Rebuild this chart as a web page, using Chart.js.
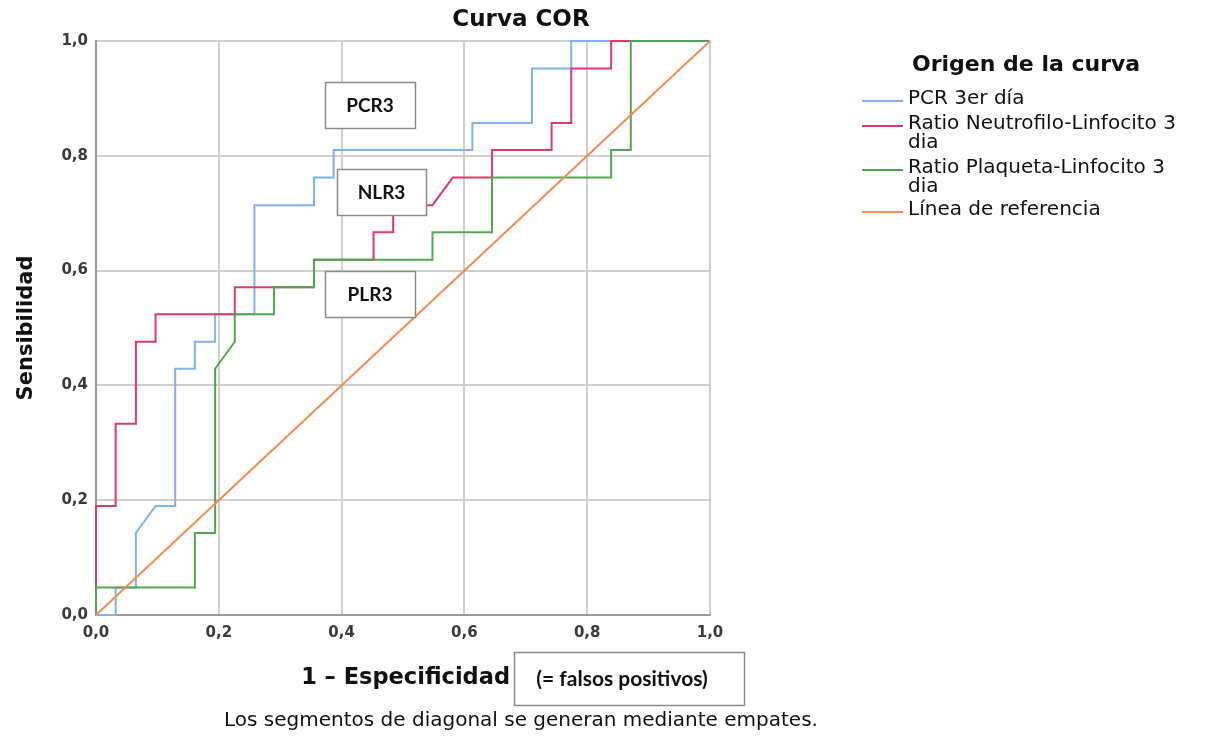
<!DOCTYPE html>
<html><head><meta charset="utf-8">
<script src="https://cdn.jsdelivr.net/npm/chart.js@4.4.1/dist/chart.umd.min.js"></script>
<style>html,body{margin:0;padding:0;background:#fff}#wrap{width:1205px;height:736px;position:relative}</style>
</head><body><div id="wrap"><canvas id="c" width="1205" height="736"></canvas></div>
<script>
// Tick labels
const tickValues = [0, 0.2, 0.4, 0.6, 0.8, 1.0];
const tickLabels = ['0,0', '0,2', '0,4', '0,6', '0,8', '1,0'];

// PCR 3er día (blue)
const pcrX = [0, 0.032, 0.032, 0.065, 0.065, 0.097, 0.129, 0.129, 0.161, 0.161, 0.194, 0.194, 0.258, 0.258, 0.355, 0.355, 0.387, 0.387, 0.613, 0.613, 0.710, 0.710, 0.774, 0.774, 1.0];
const pcrY = [0, 0, 0.048, 0.048, 0.143, 0.190, 0.190, 0.429, 0.429, 0.476, 0.476, 0.524, 0.524, 0.714, 0.714, 0.762, 0.762, 0.810, 0.810, 0.857, 0.857, 0.952, 0.952, 1.0, 1.0];

// Ratio Neutrofilo-Linfocito 3 dia (red)
const nlrX = [0, 0, 0.032, 0.032, 0.065, 0.065, 0.097, 0.097, 0.226, 0.226, 0.355, 0.355, 0.452, 0.452, 0.484, 0.484, 0.548, 0.581, 0.645, 0.645, 0.742, 0.742, 0.774, 0.774, 0.839, 0.839, 1.0];
const nlrY = [0, 0.190, 0.190, 0.333, 0.333, 0.476, 0.476, 0.524, 0.524, 0.571, 0.571, 0.619, 0.619, 0.667, 0.667, 0.714, 0.714, 0.762, 0.762, 0.810, 0.810, 0.857, 0.857, 0.952, 0.952, 1.0, 1.0];

// Ratio Plaqueta-Linfocito 3 dia (green)
const plrX = [0, 0, 0.161, 0.161, 0.194, 0.194, 0.226, 0.226, 0.290, 0.290, 0.355, 0.355, 0.548, 0.548, 0.645, 0.645, 0.839, 0.839, 0.871, 0.871, 1.0];
const plrY = [0, 0.048, 0.048, 0.143, 0.143, 0.429, 0.476, 0.524, 0.524, 0.571, 0.571, 0.619, 0.619, 0.667, 0.667, 0.762, 0.762, 0.810, 0.810, 1.0, 1.0];

// Línea de referencia (orange)
const refX = [0, 1];
const refY = [0, 1];

const seriesNames = ['PCR 3er día', 'Ratio Neutrofilo-Linfocito 3\ndia', 'Ratio Plaqueta-Linfocito 3\ndia', 'Línea de referencia'];
const seriesColors = ['#80b1ee', '#df3a63', '#52a653', '#f58c4f'];

const boxLabels = [
  {text: 'PCR3', x: 325, y: 82, w: 90, h: 46},
  {text: 'NLR3', x: 337, y: 169, w: 89, h: 46},
  {text: 'PLR3', x: 325, y: 271, w: 90, h: 46}
];

function pts(xs, ys){ return xs.map((x,i)=>({x:x, y:ys[i]})); }

const FONT = '"DejaVu Sans", sans-serif';

const overlay = {
  id: 'overlay',
  afterDatasetsDraw(chart){
    const ctx = chart.ctx;
    ctx.save();
    boxLabels.forEach(b=>{
      ctx.fillStyle = '#fff';
      ctx.fillRect(b.x, b.y, b.w, b.h);
      ctx.strokeStyle = '#8a8a8a';
      ctx.lineWidth = 1.5;
      ctx.strokeRect(b.x+0.5, b.y+0.5, b.w, b.h);
      ctx.fillStyle = '#111';
      ctx.font = 'bold 19px Lato, sans-serif';
      ctx.textAlign = 'center'; ctx.textBaseline = 'middle';
      ctx.fillText(b.text, b.x + b.w/2, b.y + b.h/2 + 1);
    });
    ctx.restore();
  },
  afterDraw(chart){
    const ctx = chart.ctx;
    ctx.save();
    ctx.fillStyle = '#111';
    // title
    ctx.font = 'bold 23px ' + FONT;
    ctx.textAlign = 'center'; ctx.textBaseline = 'middle';
    ctx.fillText('Curva COR', 521, 20);
    // y title
    ctx.save();
    ctx.translate(27, 328);
    ctx.rotate(-Math.PI/2);
    ctx.font = 'bold 21px ' + FONT;
    ctx.fillText('Sensibilidad', 0, 0);
    ctx.restore();
    // x title
    ctx.font = 'bold 22.5px ' + FONT;
    ctx.textAlign = 'right';
    ctx.fillText('1 – Especificidad', 510, 678);
    // box
    ctx.fillStyle = '#fff';
    ctx.fillRect(514, 652, 230, 53);
    ctx.strokeStyle = '#8a8a8a'; ctx.lineWidth = 1.5;
    ctx.strokeRect(514.5, 652.5, 230, 53);
    ctx.fillStyle = '#111';
    ctx.font = 'bold 21px Lato, sans-serif';
    ctx.textAlign = 'center';
    ctx.fillText('(= falsos positivos)', 622, 679);
    // footnote
    ctx.font = '20px ' + FONT;
    ctx.fillText('Los segmentos de diagonal se generan mediante empates.', 521, 721);
    // legend
    ctx.textAlign = 'left';
    ctx.font = 'bold 22px ' + FONT;
    ctx.fillText('Origen de la curva', 912, 65);
    ctx.font = '20px ' + FONT;
    const rows = [[99],[124,143],[168,187],[210]];
    rows.forEach((r,i)=>{
      const lines = seriesNames[i].split('\n');
      ctx.strokeStyle = seriesColors[i]; ctx.lineWidth = 2;
      ctx.beginPath(); ctx.moveTo(862, r[0]+2); ctx.lineTo(903, r[0]+2); ctx.stroke();
      lines.forEach((t,j)=>{ ctx.fillStyle='#111'; ctx.fillText(t, 908, r[j]); });
    });
    ctx.restore();
  }
};

const mk = (label, xs, ys, color) => ({
  label, data: pts(xs, ys), borderColor: color, backgroundColor: color,
  showLine: true, pointRadius: 0, borderWidth: 2, tension: 0, clip: 4
});

const tickFmt = (v)=> tickLabels[tickValues.findIndex(t=>Math.abs(t-v)<1e-6)];

new Chart(document.getElementById('c'), {
  type: 'scatter',
  data: { datasets: [
    mk(seriesNames[3], refX, refY, seriesColors[3]),
    mk(seriesNames[2], plrX, plrY, seriesColors[2]),
    mk(seriesNames[1], nlrX, nlrY, seriesColors[1]),
    mk(seriesNames[0], pcrX, pcrY, seriesColors[0])
  ]},
  options: {
    responsive: false, animation: false,
    layout: { padding: { top: 41, right: 495, left: 0, bottom: 0 } },
    plugins: { legend: { display: false }, tooltip: { enabled: false } },
    scales: {
      x: {
        type: 'linear', min: 0, max: 1,
        afterFit(s){ s.height = 121; },
        afterBuildTicks(s){ s.ticks = tickValues.map(v=>({value:v})); },
        ticks: { callback: tickFmt, color: '#3a3a3a', font: { family: 'DejaVu Sans', size: 15, weight: 'bold' }, padding: 9, maxRotation: 0 },
        grid: { color: '#cfcfcf', lineWidth: 2, drawTicks: false },
        border: { color: '#9a9a9a', width: 2 }
      },
      y: {
        type: 'linear', min: 0, max: 1,
        afterFit(s){ s.width = 96; },
        afterBuildTicks(s){ s.ticks = tickValues.map(v=>({value:v})); },
        ticks: { callback: tickFmt, color: '#3a3a3a', font: { family: 'DejaVu Sans', size: 15, weight: 'bold' }, padding: 8 },
        grid: { color: '#cfcfcf', lineWidth: 2, drawTicks: false },
        border: { color: '#9a9a9a', width: 2 }
      }
    }
  },
  plugins: [overlay]
});
</script></body></html>
